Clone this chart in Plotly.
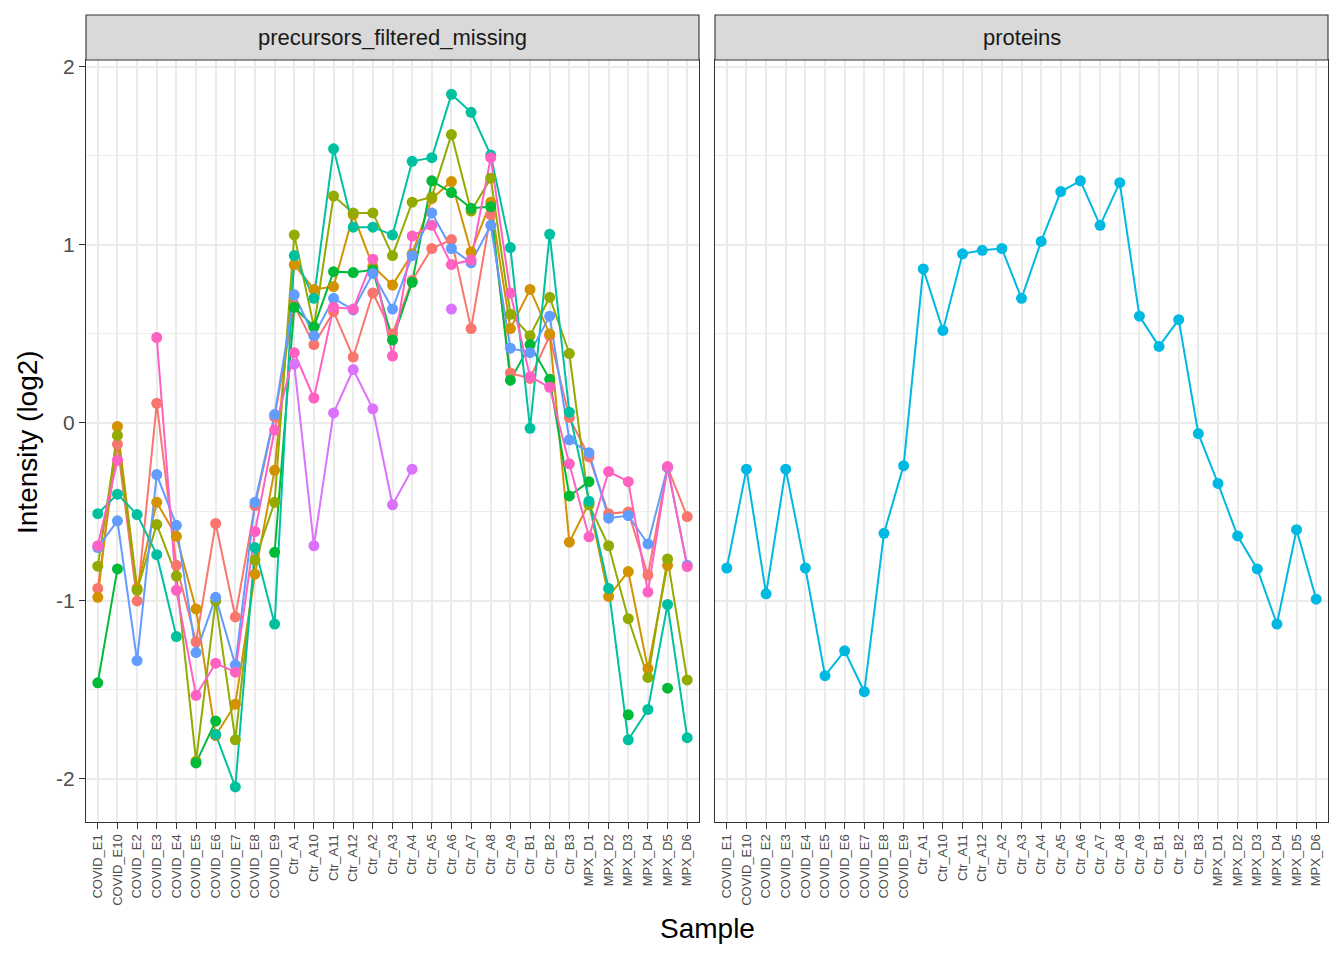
import plotly.graph_objects as go

samples = ['COVID_E1', 'COVID_E10', 'COVID_E2', 'COVID_E3', 'COVID_E4', 'COVID_E5',
           'COVID_E6', 'COVID_E7', 'COVID_E8', 'COVID_E9', 'Ctr_A1', 'Ctr_A10',
           'Ctr_A11', 'Ctr_A12', 'Ctr_A2', 'Ctr_A3', 'Ctr_A4', 'Ctr_A5', 'Ctr_A6',
           'Ctr_A7', 'Ctr_A8', 'Ctr_A9', 'Ctr_B1', 'Ctr_B2', 'Ctr_B3', 'MPX_D1',
           'MPX_D2', 'MPX_D3', 'MPX_D4', 'MPX_D5', 'MPX_D6']

# precursors (one list per precursor, None = missing)
prec_red = [-0.93, -0.12, -1.00, 0.11, -0.80, -1.23, -0.565, -1.09, -0.464, 0.034,
            0.66, 0.44, 0.625, 0.37, 0.73, 0.50, 0.80, 0.98, 1.03, 0.53, 1.17,
            0.28, 0.25, 0.49, 0.03, -0.19, -0.51, -0.50, -0.855, -0.25, -0.526]
prec_orange = [-0.98, -0.02, -0.93, -0.446, -0.637, -1.045, -1.756, -1.58, -0.85, -0.266,
               0.89, 0.75, 0.766, 1.17, 0.88, 0.775, 0.95, 1.26, 1.356, 0.96, 1.24,
               0.53, 0.75, 0.50, -0.67, -0.45, -0.975, -0.835, -1.38, -0.80, None]
prec_olive = [-0.805, -0.07, -0.94, -0.57, -0.86, -1.90, -1.00, -1.78, -0.77, -0.446,
              1.056, 0.54, 1.275, 1.18, 1.18, 0.94, 1.24, 1.27, 1.62, 1.19, 1.375,
              0.61, 0.49, 0.706, 0.39, -0.46, -0.69, -1.10, -1.43, -0.764, -1.444]
prec_green = [-1.46, -0.82, None, None, None, -1.91, -1.675, None, None, -0.727,
              0.65, 0.54, 0.85, 0.845, 0.86, 0.466, 0.79, 1.36, 1.294, 1.206, 1.215,
              0.24, 0.44, 0.245, -0.41, -0.33, None, -1.64, None, -1.49, None]
prec_teal = [-0.51, -0.40, -0.515, -0.74, -1.20, None, -1.75, -2.045, -0.70, -1.13,
             0.94, 0.70, 1.54, 1.10, 1.10, 1.056, 1.47, 1.49, 1.846, 1.745, 1.505,
             0.985, -0.03, 1.06, 0.06, -0.44, -0.93, -1.78, -1.61, -1.02, -1.768]
prec_blue = [-0.70, -0.55, -1.335, -0.29, -0.575, -1.29, -0.98, -1.36, -0.446, 0.047,
             0.72, 0.49, 0.70, 0.635, 0.84, 0.64, 0.94, 1.18, 0.98, 0.90, 1.11,
             0.42, 0.395, 0.60, -0.095, -0.167, -0.535, -0.52, -0.68, -0.25, -0.80]
prec_magenta = [None, None, None, None, None, None, None, None, None, None,
                0.33, -0.69, 0.056, 0.30, 0.079, -0.46, -0.26, None, 0.64, None, None,
                None, None, None, None, None, None, None, None, None, None]
prec_pink = [-0.69, -0.21, None, 0.48, -0.94, -1.53, -1.35, -1.40, -0.61, -0.04,
             0.395, 0.14, 0.65, 0.64, 0.92, 0.376, 1.05, 1.11, 0.89, 0.915, 1.49,
             0.73, 0.26, 0.20, -0.23, -0.64, -0.273, -0.33, -0.95, -0.245, -0.807]

proteins = [-0.815, -0.26, -0.96, -0.26, -0.815, -1.42, -1.28, -1.51, -0.62, -0.24,
            0.865, 0.52, 0.95, 0.97, 0.98, 0.70, 1.02, 1.30, 1.36, 1.11, 1.35,
            0.60, 0.43, 0.58, -0.06, -0.34, -0.635, -0.82, -1.13, -0.60, -0.99]

y_ticks = [-2, -1, 0, 1, 2]
y_ticklabels = ['-2', '-1', '0', '1', '2']

precursors = [
    (prec_red, '#F8766D'),
    (prec_orange, '#D39200'),
    (prec_olive, '#93AA00'),
    (prec_green, '#00BA38'),
    (prec_teal, '#00C19F'),
    (prec_blue, '#619CFF'),
    (prec_magenta, '#DB72FB'),
    (prec_pink, '#FF61C3'),
]
protein_colour = '#00B9E3'

W, H = 1344, 960
font = 'Liberation Sans, Arial, sans-serif'

fig = go.Figure()

# lines first, points on top (geom_line + geom_point)
for vals, col in precursors:
    fig.add_trace(go.Scatter(x=samples, y=vals, mode='lines', xaxis='x', yaxis='y',
                             line=dict(color=col, width=2), hoverinfo='skip'))
fig.add_trace(go.Scatter(x=samples, y=proteins, mode='lines', xaxis='x2', yaxis='y2',
                         line=dict(color=protein_colour, width=2), hoverinfo='skip'))
for vals, col in precursors:
    fig.add_trace(go.Scatter(x=samples, y=vals, mode='markers', xaxis='x', yaxis='y',
                             marker=dict(color=col, size=11)))
fig.add_trace(go.Scatter(x=samples, y=proteins, mode='markers', xaxis='x2', yaxis='y2',
                         marker=dict(color=protein_colour, size=11)))

left = (86 / W, 699 / W)
right = (715 / W, 1328 / W)
ydom = (1 - 822 / H, 1 - 60 / H)

xcommon = dict(type='category', categoryorder='array', categoryarray=samples,
               range=[-0.6, len(samples) - 0.4], tickangle=-90,
               tickfont=dict(family=font, size=13, color='#4D4D4D'),
               showgrid=True, gridcolor='#EBEBEB', gridwidth=1.5,
               showline=True, mirror=True, linecolor='#333333', linewidth=1.1,
               ticks='outside', ticklen=6, tickcolor='#333333', tickwidth=1.1,
               zeroline=False, automargin=False, fixedrange=True)
ycommon = dict(range=[-2.242, 2.039], tickvals=y_ticks, ticktext=y_ticklabels,
               showgrid=True, gridcolor='#EBEBEB', gridwidth=1.5,
               minor=dict(tickvals=[-1.5, -0.5, 0.5, 1.5], showgrid=True,
                          gridcolor='#EDEDED', gridwidth=0.8, ticks=''),
               showline=True, mirror=True, linecolor='#333333', linewidth=1.1,
               zeroline=False, automargin=False, fixedrange=True, domain=list(ydom))

fig.update_layout(
    width=W, height=H,
    margin=dict(l=0, r=0, t=0, b=0),
    paper_bgcolor='white', plot_bgcolor='white',
    showlegend=False,
    font=dict(family=font, color='#000000'),
    xaxis=dict(xcommon, domain=list(left), anchor='y'),
    xaxis2=dict(xcommon, domain=list(right), anchor='y2'),
    yaxis=dict(ycommon, anchor='x', ticks='outside', ticklen=6, tickcolor='#333333',
               tickwidth=1.1, tickfont=dict(family=font, size=21, color='#4D4D4D')),
    yaxis2=dict(ycommon, anchor='x2', matches='y', showticklabels=False, ticks=''),
)

# facet strips
strip_y0, strip_y1 = 1 - 60 / H, 1 - 15 / H
for (x0, x1), label in [(left, 'precursors_filtered_missing'), (right, 'proteins')]:
    fig.add_shape(type='rect', xref='paper', yref='paper', x0=x0, x1=x1,
                  y0=strip_y0, y1=strip_y1, fillcolor='#D9D9D9',
                  line=dict(color='#333333', width=1.1), layer='above')
    fig.add_annotation(xref='paper', yref='paper', x=(x0 + x1) / 2, y=(strip_y0 + strip_y1) / 2,
                       text=label, showarrow=False, xanchor='center', yanchor='middle',
                       font=dict(family=font, size=22, color='#1A1A1A'))

fig.add_annotation(xref='paper', yref='paper', x=707 / W, y=1 - 928 / H, text='Sample',
                   showarrow=False, xanchor='center', yanchor='middle',
                   font=dict(family=font, size=28, color='#000000'))
fig.add_annotation(xref='paper', yref='paper', x=27 / W, y=1 - 442 / H, text='Intensity (log2)',
                   showarrow=False, textangle=-90, xanchor='center', yanchor='middle',
                   font=dict(family=font, size=28, color='#000000'))

fig.write_html('out.html', config={'displayModeBar': False},
               post_script="document.body.style.margin='0';")
